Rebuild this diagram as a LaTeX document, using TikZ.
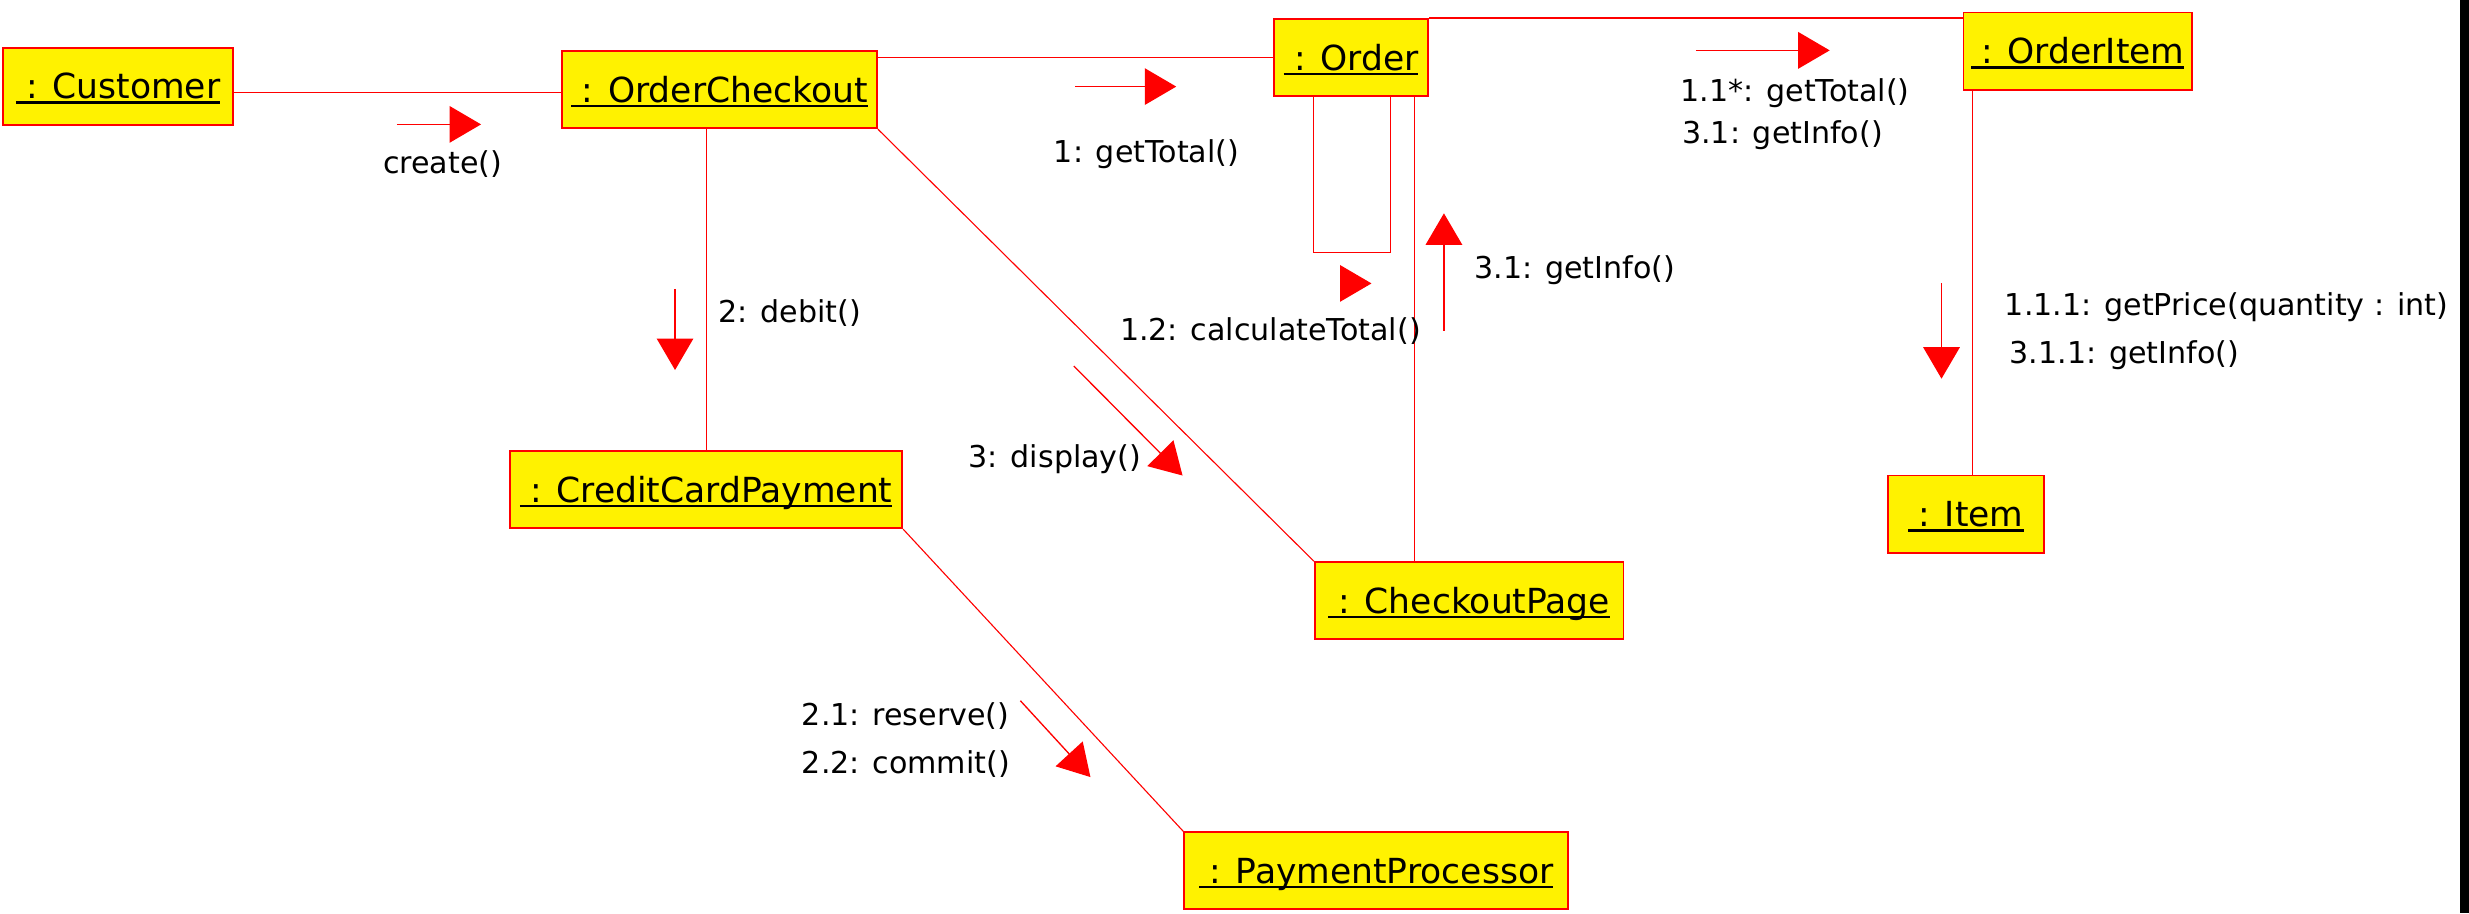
\documentclass[tikz,border=0pt]{standalone}
\usepackage{fontspec}
\setmainfont{DejaVu Sans}
\usetikzlibrary{calc,arrows.meta}
\def\objname#1{\sbox0{\hspace{.3em}#1}\rlap{\rule[-2.2pt]{\wd0}{1.1pt}}\usebox0}
\tikzset{
	obj/.style={draw=red, fill=yellow, line width=0.8pt, inner sep=0pt, minimum height=12.25mm, font=\fontsize{15.6}{18}\selectfont, text height=11.4pt, text depth=0pt},
	link/.style={draw=red, line width=0.5pt},
	msg/.style={draw=red, line width=0.6pt, -{Triangle[length=5mm,width=5.8mm]}},
	lbl/.style={anchor=west, inner sep=0pt, font=\fontsize{13.6}{16}\selectfont, text height=10.3pt, text depth=1.8pt}
}

\begin{document}
\begin{tikzpicture}[x=0.25mm, y=-0.25mm]
			%%%%% START %%%%%
			\useasboundingbox (0,0) rectangle (1568,580);
			
			\node[obj, minimum width=36.5mm] (cust) at (75,54.75) {\objname{: Customer}};
			\node[obj, minimum width=50mm] (chk) at (457,57) {\objname{: OrderCheckout}};
			\node[obj, minimum width=24.5mm] (ord) at (858,36.5) {\objname{: Order}};
			\node[obj, minimum width=36.25mm] (oitem) at (1319.5,32.5) {\objname{: OrderItem}};
			\node[obj, minimum width=24.75mm] (item) at (1248.5,326.5) {\objname{: Item}};
			\node[obj, minimum width=62.25mm] (ccp) at (448.5,311) {\objname{: CreditCardPayment}};
			\node[obj, minimum width=49mm] (page) at (933,381.5) {\objname{: CheckoutPage}};
			\node[obj, minimum width=61mm] (proc) at (874,553) {\objname{: PaymentProcessor}};
			
			% links
			\draw[link] (cust.east |- 0,59) -- (chk.west |- 0,59);
			\draw[link] (ord.west) -- (ord.west -| chk.east);
			\draw[link] (ord.north east) -- (ord.north east -| oitem.west);
			\draw[link] (ccp.north) -- (ccp.north |- chk.south);
			\draw[link] (chk.south east) -- (page.north west);
			\draw[link] ($(ord.south east)+(-9,0)$) coordinate (o1) -- (o1 |- page.north);
			\draw[link] ($(ord.south)+(-24,0)$) -- ++(0,99) -- ++(49,0) -- ++(0,-99);
			\draw[link] ([xshift=1.1mm]item.north) -- ([xshift=1.1mm]item.north |- oitem.south);
			\draw[link] (ccp.south east) -- (proc.north west);
			
			% messages
			\draw[msg] (252,79) -- (305.5,79);
			\node[lbl] (m0) at (243,104.5) {create()};
			
			\draw[msg] (683,55) -- (747,55);
			\node[lbl] (m1) at (669,97) {1: getTotal()};
			
			\draw[msg] (1077,32) -- (1162,32);
			\node[lbl] (m11) at (1067,58.5) {1.1*: getTotal()};
			\node[lbl] (m31) at (1068,85) {3.1: getInfo()};
			
			\draw[msg] (851,180) -- (871,180);
			\node[lbl] (m12) at (711,210.5) {1.2: calculateTotal()};
			
			\draw[msg] (917,210) -- (917,135.5);
			\node[lbl] (m31b) at (936,171) {3.1: getInfo()};
			
			\draw[msg] (428.7,183.5) -- (428.7,235);
			\node[lbl] (m2) at (456,199) {2: debit()};
			
			\draw[msg] (682,232.5) -- (751,302);
			\node[lbl] (m3) at (615,291) {3: display()};
			
			\draw[msg] (648,445) -- (692.5,493.5);
			\node[lbl] (m21) at (509,454.7) {2.1: reserve()};
			\node[lbl] (m22) at (509,485) {2.2: commit()};
			
			\draw[msg] (1233,180) -- (1233,240.5);
			\node[lbl] (m111) at (1273,194.5) {1.1.1: getPrice(quantity : int)};
			\node[lbl] (m311) at (1276,224.7) {3.1.1: getInfo()};
			
			\fill[black] (1562,0) rectangle (1568,580);
			%%%%% END %%%%%
\end{tikzpicture}
\end{document}
